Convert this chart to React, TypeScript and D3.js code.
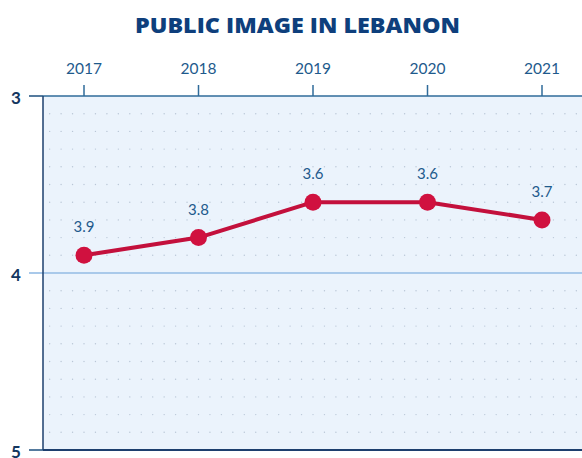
import React from "react";
import * as d3 from "d3";

const years = ["2017", "2018", "2019", "2020", "2021"];
const values = [3.9, 3.8, 3.6, 3.6, 3.7];
const yTicks = [3, 4, 5];
const title = "PUBLIC IMAGE IN LEBANON";

export default function App() {
  const W = 582, H = 458;
  const left = 43, top = 96, bottom = 450, right = 582;
  const x = d3.scalePoint<string>().domain(years).range([84, 542]);
  const step = x.step();
  const y = d3.scaleLinear().domain([3, 5]).range([top, bottom]);
  const line = d3.line<number>().x((_, i) => x(years[i])!).y((v) => y(v));

  const dotRows = d3.range(3.1, 5.0, 0.1).filter((v) => Math.abs(v - 4) > 0.01);
  const dotCols: number[] = [];
  for (let xx = x(years[0])! - Math.floor((x(years[0])! - left) / (step / 10)) * (step / 10); xx < right; xx += step / 10) {
    if (xx > left + 2) dotCols.push(xx);
  }

  const font = "Lato, 'Open Sans', sans-serif";

  return (
    <svg width={W} height={H} style={{ position: "absolute", left: 0, top: 0 }}>
      <rect x={0} y={0} width={W} height={H} fill="#ffffff" />
      <text x={297.5} y={33} textAnchor="middle" fontFamily="'Open Sans', sans-serif" fontWeight={800} fontSize={20.5} fill="#0e3f7c" textLength={325} lengthAdjust="spacingAndGlyphs">
        {title}
      </text>
      <rect x={left} y={top} width={right - left} height={bottom - top} fill="#ebf3fc" />
      {dotRows.map((r, i) => (
        <g key={i}>
          {dotCols.map((c, j) => (
            <circle key={j} cx={c} cy={y(r)} r={0.7} fill="#b9c6d6" />
          ))}
        </g>
      ))}
      <line x1={29} x2={right} y1={y(4)} y2={y(4)} stroke="#a9c9ea" strokeWidth={2} />
      <line x1={left} x2={right} y1={top} y2={top} stroke="#2f6b9a" strokeWidth={1.5} />
      <line x1={left} x2={right} y1={bottom} y2={bottom} stroke="#1d3f6e" strokeWidth={2} />
      <line x1={left} x2={left} y1={top} y2={bottom} stroke="#1d3f6e" strokeWidth={1.5} />
      {yTicks.map((t) => (
        <g key={t}>
          {t !== 4 && <line x1={29} x2={left} y1={y(t)} y2={y(t)} stroke="#1d4f7e" strokeWidth={1.5} />}
          <text x={16} y={y(t) + 8} textAnchor="middle" fontFamily={font} fontWeight={700} fontSize={17} fill="#13365f">
            {t}
          </text>
        </g>
      ))}
      {years.map((yr) => (
        <g key={yr}>
          <line x1={x(yr)!} x2={x(yr)!} y1={85} y2={top} stroke="#2f6b9a" strokeWidth={1.5} />
          <text x={x(yr)!} y={73.5} textAnchor="middle" fontFamily={font} fontSize={15.5} fill="#1e5a8c">
            {yr}
          </text>
        </g>
      ))}
      <path d={line(values)!} fill="none" stroke="#c3103c" strokeWidth={4} strokeLinejoin="round" />
      {values.map((v, i) => (
        <g key={i}>
          <circle cx={x(years[i])!} cy={y(v)} r={8.5} fill="#d0113f" />
          <text x={x(years[i])!} y={y(v) - 23} textAnchor="middle" fontFamily={font} fontSize={15} fill="#1e5a8c">
            {v.toFixed(1)}
          </text>
        </g>
      ))}
    </svg>
  );
}
